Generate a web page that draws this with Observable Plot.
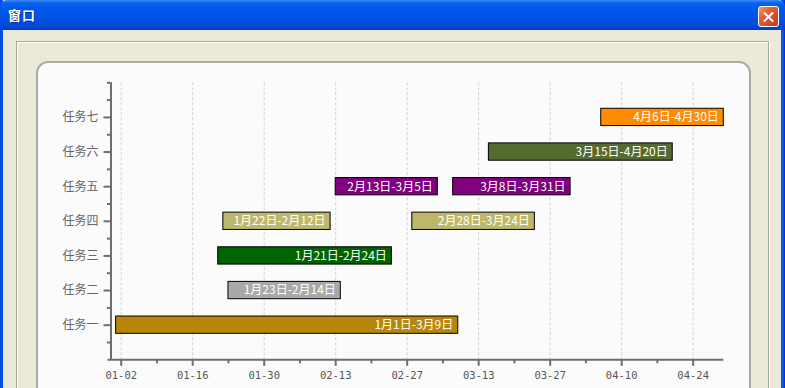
<!DOCTYPE html>
<html>
<head>
<meta charset="utf-8">
<script src="https://cdn.jsdelivr.net/npm/d3@7"></script>
<script src="https://cdn.jsdelivr.net/npm/@observablehq/plot@0.6"></script>
<style>
  html, body { margin: 0; padding: 0; }
  body { width: 785px; height: 388px; overflow: hidden; position: relative; background: #ECE9D8; font-family: "Noto Sans CJK SC", sans-serif; }
  #frame { position: absolute; left: 0; top: 0; width: 785px; height: 388px; background: linear-gradient(to right, #0831D9 0px, #0058EE 1px, #0058EE 3px, transparent 3px, transparent 781px, #0058EE 781px, #0058EE 784px, #0831D9 784px); }
  #client { position: absolute; left: 3px; top: 30px; width: 778px; height: 400px; background: #ECE9D8; }
  #titlebar { position: absolute; left: 0; top: 0; width: 785px; height: 30px; border-radius: 7px 7px 0 0;
    background: linear-gradient(to bottom, #3D8DF5 0px, #0A62EC 3px, #0058EE 8px, #0055E6 16px, #004EDE 24px, #0045D2 28px, #003DC0 30px); }
  #title { position: absolute; left: 8px; top: 6px; color: #fff; font: bold 13px "Noto Sans CJK SC", sans-serif; line-height: 18px; text-shadow: 1px 1px 0 #0A1E80; letter-spacing: 1px; }
  #close { position: absolute; left: 758px; top: 6px; width: 19px; height: 19px; border: 1px solid #fff; border-radius: 3px;
    background: linear-gradient(135deg, #F0997A 0%, #E2603C 35%, #D24A26 70%, #B83A1C 100%); }
  #close .l { position: absolute; left: 3px; top: 8.5px; width: 13px; height: 2.2px; background: #fff; }
  #close .l1 { transform: rotate(45deg); }
  #close .l2 { transform: rotate(-45deg); }
  #group { position: absolute; left: 16px; top: 41px; width: 751px; height: 400px; border: 1px solid #ACA899; box-shadow: 1px 1px 0 #fff, inset 1px 1px 0 #fff; }
  #panel { position: absolute; left: 36px; top: 61px; width: 711px; height: 400px; border: 2px solid #ABABA6; border-radius: 12px; background: #FBFBFB; }
  #chart { position: absolute; left: 0; top: 0; }
  #chart svg { background: transparent; overflow: visible; }
</style>
</head>
<body>
<div id="frame"></div>
<div id="client"></div>
<div id="titlebar"><div id="title">窗口</div><div id="close"><div class="l l1"></div><div class="l l2"></div></div></div>
<div id="group"></div>
<div id="panel"></div>
<div id="chart"></div>
<script>
// ---- data ----
const taskNames = ["任务一", "任务二", "任务三", "任务四", "任务五", "任务六", "任务七"];
const taskColors = ["#B8860B", "#A9A9A9", "#006400", "#BDB76B", "#800080", "#556B2F", "#FF8C00"];
const barTask  = ["任务一", "任务二", "任务三", "任务四", "任务四", "任务五", "任务五", "任务六", "任务七"];
const barStart = ["01-01", "01-23", "01-21", "01-22", "02-28", "02-13", "03-08", "03-15", "04-06"];
const barEnd   = ["03-09", "02-14", "02-24", "02-12", "03-24", "03-05", "03-31", "04-20", "04-30"];
const xTickLabels = ["01-02", "01-16", "01-30", "02-13", "02-27", "03-13", "03-27", "04-10", "04-24"];
const xMinorLabels = ["01-09", "01-23", "02-06", "02-20", "03-06", "03-20", "04-03", "04-17"];
const xDomainLabels = ["12-31", "04-30"];

const YEAR = 2023;
const parse = (s, y = YEAR) => new Date(Date.UTC(y, +s.slice(0, 2) - 1, +s.slice(3, 5)));
const xDomain = [parse(xDomainLabels[0], YEAR - 1), parse(xDomainLabels[1])];
const xMajor = xTickLabels.map(s => parse(s));
const xMinor = xMinorLabels.map(s => parse(s));
const cn = d => `${d.getUTCMonth() + 1}月${d.getUTCDate()}日`;

const bars = barTask.map((t, i) => {
  const s = parse(barStart[i]), e = parse(barEnd[i]);
  const k = taskNames.indexOf(t) + 1;
  return { task: t, k, start: s, end: e, label: `${cn(s)}-${cn(e)}` };
});

const yMajor = taskNames.map((_, i) => i + 1);
const yMinor = [0.5, 1.5, 2.5, 3.5, 4.5, 5.5, 6.5, 7.5, 8];
const axisColor = "#6E6E6E";

const chart = Plot.plot({
  width: 785,
  height: 388,
  marginLeft: 110.5,
  marginRight: 61.7,
  marginTop: 82.3,
  marginBottom: 28.7,
  style: { background: "transparent", overflow: "visible" },
  x: { type: "utc", domain: xDomain, axis: null },
  y: { domain: [0, 8], axis: null },
  color: { domain: taskNames, range: taskColors },
  marks: [
    Plot.gridX(xMajor, { stroke: "#D2D2D2", strokeOpacity: 1, strokeWidth: 1, strokeDasharray: "3,2" }),
    Plot.rect(bars, {
      x1: "start", x2: "end",
      y1: d => d.k - 0.25, y2: d => d.k + 0.25,
      fill: "task", stroke: "#000", strokeWidth: 1
    }),
    Plot.text(bars, {
      x: "end", y: "k", text: "label", dx: -5, textAnchor: "end",
      fill: "#FFFFFF", fontSize: 12, fontFamily: "Noto Sans CJK SC"
    }),
    Plot.ruleX([xDomain[0]], { stroke: axisColor, strokeWidth: 2 }),
    Plot.ruleY([0], { stroke: axisColor, strokeWidth: 2, insetLeft: -3 }),
    Plot.axisY({
      ticks: yMajor, tickSize: 7, tickPadding: 5.5, strokeWidth: 2, stroke: axisColor,
      tickFormat: d => taskNames[d - 1], fill: "#666", fontSize: 12, fontFamily: "Noto Sans CJK SC", label: null
    }),
    Plot.axisY({
      ticks: yMinor, tickSize: 3.5, strokeWidth: 2, stroke: axisColor, tickFormat: () => "", label: null
    }),
    Plot.axisX({
      ticks: xMajor, tickSize: 6.5, tickPadding: 5, strokeWidth: 2, stroke: axisColor,
      tickFormat: d3.utcFormat("%m-%d"), fill: "#555", fontSize: 10.5, fontFamily: "DejaVu Sans Mono", label: null
    }),
    Plot.axisX({
      ticks: xMinor, tickSize: 4, strokeWidth: 2, stroke: axisColor, tickFormat: () => "", label: null
    })
  ]
});
document.getElementById("chart").appendChild(chart);
</script>
</body>
</html>
